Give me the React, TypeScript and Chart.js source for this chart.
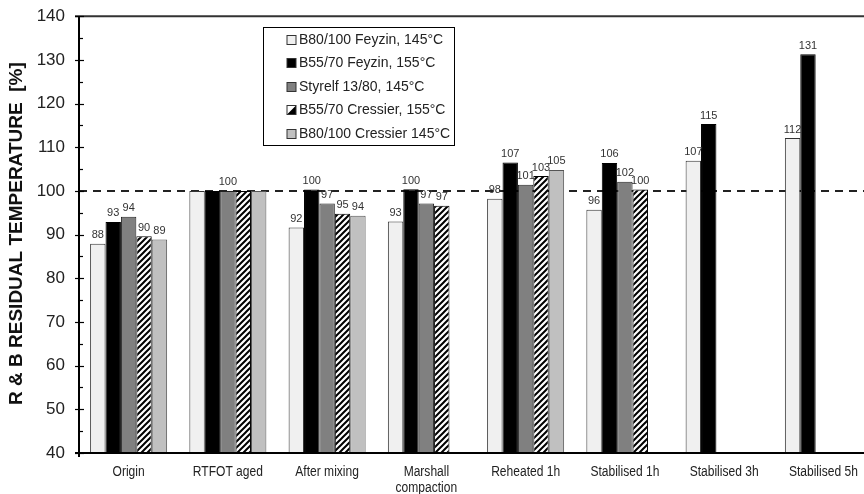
import React, { useEffect, useRef } from "react";
import { Chart, registerables } from "chart.js";

Chart.register(...registerables);

const categories: (string | string[])[] = [
  "Origin",
  "RTFOT aged",
  "After mixing",
  ["Marshall", "compaction"],
  "Reheated 1h",
  "Stabilised 1h",
  "Stabilised 3h",
  "Stabilised 5h",
];

const seriesNames = [
  "B80/100 Feyzin, 145°C",
  "B55/70 Feyzin, 155°C",
  "Styrelf 13/80, 145°C",
  "B55/70 Cressier, 155°C",
  "B80/100 Cressier 145°C",
];

const b80Feyzin = [87.9, 100, 91.6, 93.0, 98.2, 95.7, 106.9, 112.1];
const b55Feyzin = [92.9, 100, 100.3, 100.4, 106.5, 106.4, 115.3, 131.3];
const styrelf = [94.1, 100, 97.1, 97.1, 101.4, 102.1, null, null];
const b55Cressier = [89.6, 100, 94.8, 96.6, 103.4, 100.3, null, null];
const b80Cressier = [88.9, 100, 94.3, null, 104.8, null, null, null];

// labels hidden at RTFOT aged except Styrelf
const hiddenLabels: [number, number][] = [
  [0, 1],
  [1, 1],
  [3, 1],
  [4, 1],
];

const yTicks = [40, 50, 60, 70, 80, 90, 100, 110, 120, 130, 140];
const refLine = 100;

function makeHatch(): CanvasPattern | string {
  const c = document.createElement("canvas");
  c.width = 6;
  c.height = 6;
  const g = c.getContext("2d");
  if (!g) return "#888";
  g.fillStyle = "#ffffff";
  g.fillRect(0, 0, 6, 6);
  g.strokeStyle = "#000000";
  g.lineWidth = 2;
  g.beginPath();
  g.moveTo(-1, 7);
  g.lineTo(7, -1);
  g.moveTo(-4, 4);
  g.lineTo(4, -4);
  g.moveTo(2, 10);
  g.lineTo(10, 2);
  g.stroke();
  const p = g.createPattern(c, "repeat");
  return p || "#888";
}

export default function App() {
  const ref = useRef<HTMLCanvasElement>(null);

  useEffect(() => {
    const canvas = ref.current;
    if (!canvas) return;
    const hatch = makeHatch();

    const fills: any[] = ["#f0f0f0", "#000000", "#808080", hatch, "#c0c0c0"];
    const borders = ["#333333", "#000000", "#222222", "#000000", "#555555"];
    const values = [b80Feyzin, b55Feyzin, styrelf, b55Cressier, b80Cressier];

    const decor = {
      id: "decor",
      beforeDatasetsDraw(chart: any) {
        const { ctx, chartArea, scales } = chart;
        const y = scales.y;
        ctx.save();
        const yr = y.getPixelForValue(refLine);
        ctx.strokeStyle = "#222";
        ctx.lineWidth = 2;
        ctx.setLineDash([8, 6]);
        ctx.beginPath();
        ctx.moveTo(chartArea.left, yr);
        ctx.lineTo(chartArea.right + 20, yr);
        ctx.stroke();
        ctx.restore();
      },
      afterDatasetsDraw(chart: any) {
        const { ctx, chartArea, scales } = chart;
        const y = scales.y;
        const x = scales.x;
        ctx.save();
        // value labels
        ctx.font = "11px Arial, 'Liberation Sans', sans-serif";
        ctx.fillStyle = "#333";
        ctx.textAlign = "center";
        ctx.textBaseline = "bottom";
        chart.data.datasets.forEach((ds: any, di: number) => {
          const meta = chart.getDatasetMeta(di);
          meta.data.forEach((bar: any, ci: number) => {
            const v = ds.data[ci];
            if (v === null || v === undefined) return;
            if (hiddenLabels.some(([a, b]) => a === di && b === ci)) return;
            ctx.fillText(String(Math.round(v)), bar.x, bar.y - 3);
          });
        });

        // x labels (condensed)
        ctx.font = "14px Arial, 'Liberation Sans', sans-serif";
        ctx.fillStyle = "#222";
        ctx.textBaseline = "middle";
        ctx.textAlign = "center";
        categories.forEach((lab, i) => {
          const px = x.getPixelForValue(i);
          const lines = Array.isArray(lab) ? lab : [lab];
          lines.forEach((ln, k) => {
            ctx.save();
            ctx.translate(px, chartArea.bottom + 19 + k * 16);
            ctx.scale(0.86, 1);
            ctx.fillText(ln, 0, 0);
            ctx.restore();
          });
        });

        // axes
        ctx.strokeStyle = "#000";
        ctx.lineWidth = 2;
        ctx.setLineDash([]);
        ctx.beginPath();
        ctx.moveTo(chartArea.left, chartArea.top);
        ctx.lineTo(chartArea.left, chartArea.bottom + 4);
        ctx.stroke();
        ctx.beginPath();
        ctx.moveTo(chartArea.left - 4, chartArea.bottom);
        ctx.lineTo(chartArea.right + 20, chartArea.bottom);
        ctx.stroke();
        ctx.strokeStyle = "#333";
        ctx.beginPath();
        ctx.moveTo(chartArea.left - 4, chartArea.top);
        ctx.lineTo(chartArea.right + 20, chartArea.top);
        ctx.stroke();

        // y ticks
        ctx.strokeStyle = "#000";
        ctx.lineWidth = 1.2;
        yTicks.forEach((t) => {
          const py = Math.round(y.getPixelForValue(t)) + 0.5;
          ctx.beginPath();
          ctx.moveTo(chartArea.left - 4, py);
          ctx.lineTo(chartArea.left + 5, py);
          ctx.stroke();
          if (t < 140) {
            const pm = Math.round(y.getPixelForValue(t + 5)) + 0.5;
            ctx.beginPath();
            ctx.moveTo(chartArea.left, pm);
            ctx.lineTo(chartArea.left + 4, pm);
            ctx.stroke();
          }
        });

        // y title
        ctx.save();
        ctx.translate(17, (chartArea.top + chartArea.bottom) / 2 - 1);
        ctx.rotate(-Math.PI / 2);
        ctx.font = "bold 19px Arial, 'Liberation Sans', sans-serif";
        ctx.fillStyle = "#111";
        ctx.textAlign = "center";
        ctx.textBaseline = "middle";
        ctx.fillText("R & B RESIDUAL TEMPERATURE  [%]", 0, 0);
        ctx.restore();

        // legend
        const lx = 263, ly = 27, lw = 191, lh = 118;
        ctx.fillStyle = "#fff";
        ctx.fillRect(lx, ly, lw, lh);
        ctx.strokeStyle = "#000";
        ctx.lineWidth = 1;
        ctx.strokeRect(lx + 0.5, ly + 0.5, lw, lh);
        ctx.font = "14px Arial, 'Liberation Sans', sans-serif";
        ctx.textAlign = "left";
        ctx.textBaseline = "middle";
        seriesNames.forEach((name, i) => {
          const cy = ly + 12 + i * 23.5;
          const mx = 287, ms = 9;
          const my = Math.round(cy - ms / 2) + 0.5;
          if (i === 3) {
            ctx.fillStyle = "#fff";
            ctx.fillRect(mx, my, ms, ms);
            ctx.fillStyle = "#000";
            ctx.beginPath();
            ctx.moveTo(mx + ms, my);
            ctx.lineTo(mx + ms, my + ms);
            ctx.lineTo(mx, my + ms);
            ctx.closePath();
            ctx.fill();
          } else {
            ctx.fillStyle = fills[i];
            ctx.fillRect(mx, my, ms, ms);
          }
          ctx.strokeStyle = "#333";
          ctx.lineWidth = 1;
          ctx.strokeRect(mx, my, ms, ms);
          ctx.fillStyle = "#222";
          ctx.fillText(name, 299, cy + 1);
        });
        ctx.restore();
      },
    };

    const chart = new Chart(canvas, {
      type: "bar",
      data: {
        labels: categories,
        datasets: values.map((d, i) => ({
          label: seriesNames[i],
          data: d,
          backgroundColor: fills[i],
          borderColor: borders[i],
          borderWidth: 1,
          categoryPercentage: 0.776,
          barPercentage: 1,
        })),
      },
      options: {
        animation: false,
        responsive: false,
        devicePixelRatio: 1,
        layout: { padding: { left: 0, top: 7, right: 7, bottom: 0 } },
        plugins: {
          legend: { display: false },
          tooltip: { enabled: false },
        },
        scales: {
          x: {
            grid: { display: false },
            border: { display: false },
            ticks: { display: false },
            afterFit: (s: any) => {
              s.height = 41;
            },
          },
          y: {
            min: 40,
            max: 140,
            grid: { display: false },
            border: { display: false },
            ticks: {
              stepSize: 10,
              padding: 6,
              color: "#222",
              font: { family: "Arial, 'Liberation Sans', sans-serif", size: 17 },
            },
            afterFit: (s: any) => {
              s.width = 79;
            },
          },
        },
      },
      plugins: [decor],
    });

    return () => chart.destroy();
  }, []);

  return (
    <div
      style={{
        position: "fixed",
        left: 0,
        top: 0,
        width: 864,
        height: 494,
        overflow: "hidden",
        background: "#fff",
      }}
    >
      <canvas ref={ref} width={880} height={494} style={{ display: "block", width: 880, height: 494 }} />
    </div>
  );
}
